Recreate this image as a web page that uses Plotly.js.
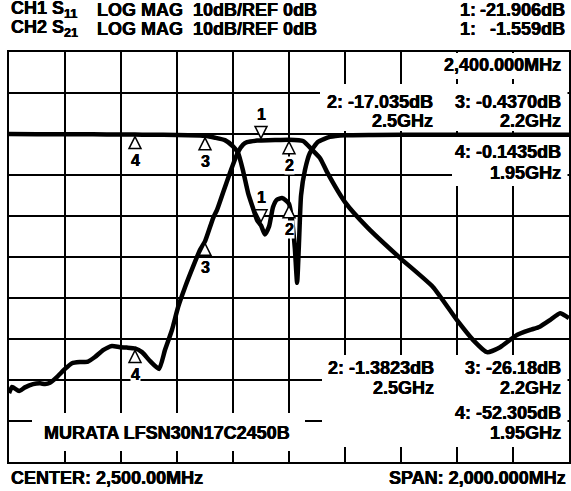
<!DOCTYPE html>
<html>
<head>
<meta charset="utf-8">
<script src="https://cdn.plot.ly/plotly-3.0.1.min.js"></script>
<style>html,body{margin:0;padding:0;background:#fff;}#chart{width:571px;height:491px;}</style>
</head>
<body>
<div id="chart"></div>
<script>
// ---- Data (frequency in MHz, magnitude in dB) ----
const freqS11 = [1500,1600,1700,1800,1900,1950,2000,2100,2182,2200,2236,2271,2300,2318,2336,2354,2371,2386,2400,2414,2429,2443,2457,2475,2489,2500,2511,2521,2529,2536,2543,2557,2575,2604,2646,2700,2800,3000,3200,3500];
const s11 = [0.0,-0.05,-0.06,-0.08,-0.12,-0.14,-0.17,-0.25,-0.35,-0.44,-0.9,-1.5,-3.0,-4.6,-9.0,-14.4,-18.0,-21.0,-22.3,-24.5,-22.5,-17.8,-16.0,-15.6,-16.2,-17.0,-21.0,-28.0,-36.3,-26.0,-15.0,-8.8,-4.6,-1.9,-0.7,-0.3,-0.22,-0.2,-0.2,-0.2];

const freqS21 = [1500,1511,1536,1557,1586,1611,1629,1646,1671,1700,1725,1754,1782,1807,1836,1868,1896,1921,1950,1975,2004,2036,2057,2082,2104,2129,2157,2182,2200,2229,2243,2264,2289,2318,2336,2350,2386,2400,2450,2500,2550,2582,2611,2636,2700,2779,2896,3014,3100,3157,3207,3254,3314,3361,3396,3432,3468,3500];
const s21 = [-63.2,-61.7,-62.7,-61.8,-61.0,-60.8,-61.0,-60.7,-59.3,-57.3,-55.9,-55.6,-55.5,-54.4,-52.7,-51.7,-52.0,-52.1,-52.3,-53.2,-55.4,-57.3,-52.7,-47.8,-42.2,-37.3,-32.4,-28.3,-26.2,-20.5,-18.5,-14.4,-9.5,-4.4,-2.6,-2.0,-1.6,-1.56,-1.45,-1.38,-1.7,-3.8,-5.9,-9.3,-16.6,-22.7,-30.2,-37.3,-45.4,-50.2,-53.2,-52.0,-49.0,-47.8,-47.0,-45.4,-43.7,-44.9];

// Markers
const markerIds = ['1','2','3','4'];
const markerFreqs = [2400, 2500, 2200, 1950];
const markerS11 = [-21.906, -17.035, -0.437, -0.1435];
const markerS21 = [-1.559, -1.3823, -26.18, -52.305];
const markerDown = [true, false, false, false];

// Text
const headerRows = [
  ['CH1 S<sub>11</sub>', 'LOG MAG', '10dB/REF 0dB', '1:', '-21.906dB'],
  ['CH2 S<sub>21</sub>', 'LOG MAG', '10dB/REF 0dB', '1:', '-1.559dB']
];
const stimulusText = '2,400.000MHz';
const readoutsS11 = [['2: -17.035dB','2.5GHz'],['3: -0.4370dB','2.2GHz'],['4: -0.1435dB','1.95GHz']];
const readoutsS21 = [['2: -1.3823dB','2.5GHz'],['3: -26.18dB','2.2GHz'],['4: -52.305dB','1.95GHz']];
const deviceName = 'MURATA LFSN30N17C2450B';
const centerText = 'CENTER: 2,500.00MHz';
const spanText = 'SPAN: 2,000.000MHz';

// ---- Layout helpers (pixel -> paper) ----
const W = 571, H = 491, L = 9, R = 569, T = 52, B = 462;
const px = x => (x - L) / (R - L);
const py = y => (B - y) / (B - T);
const FONT = 'Liberation Sans';
const HEAVY = '0.35px 0 0 #000, -0.35px 0 0 #000';

function txt(text, x, y, anchor, size) {
  return {text: '<b>' + text + '</b>', xref: 'paper', yref: 'paper', x: px(x), y: py(y),
    xanchor: anchor, yanchor: 'middle', showarrow: false,
    font: {family: FONT, size: size || 18, color: '#000', weight: 'bold', shadow: HEAVY}};
}

const annotations = [];
headerRows.forEach((r, i) => {
  const y = i === 0 ? 10 : 29;
  annotations.push(txt(r[0], 9, y, 'left'));
  annotations.push(txt(r[1], 95, y, 'left'));
  annotations.push(txt(r[2], 191, y, 'left'));
  annotations.push(txt(r[3], 458, y, 'left'));
  annotations.push(txt(r[4], 567, y, 'right'));
});
annotations.push(txt(stimulusText, 563, 65, 'right'));
annotations.push(txt(readoutsS11[0][0], 435, 102, 'right'));
annotations.push(txt(readoutsS11[0][1], 435, 121, 'right'));
annotations.push(txt(readoutsS11[1][0], 563, 102, 'right'));
annotations.push(txt(readoutsS11[1][1], 563, 121, 'right'));
annotations.push(txt(readoutsS11[2][0], 563, 152, 'right'));
annotations.push(txt(readoutsS11[2][1], 563, 173, 'right'));
annotations.push(txt(readoutsS21[0][0], 436, 368, 'right'));
annotations.push(txt(readoutsS21[0][1], 436, 388, 'right'));
annotations.push(txt(readoutsS21[1][0], 563, 368, 'right'));
annotations.push(txt(readoutsS21[1][1], 563, 388, 'right'));
annotations.push(txt(readoutsS21[2][0], 563, 413, 'right'));
annotations.push(txt(readoutsS21[2][1], 563, 433, 'right'));
annotations.push(txt(deviceName, 42, 433, 'left'));
annotations.push(txt(centerText, 9, 478, 'left'));
annotations.push(txt(spanText, 568, 478, 'right'));

// White blanking boxes
const boxes = [[440,53,567.5,79],[320,84,567.5,131],[452,137,567.5,186],[322,355,567.5,447],[32,413,305,451]];
const shapes = boxes.map(b => ({type: 'rect', xref: 'paper', yref: 'paper', layer: 'above',
  x0: px(b[0]), x1: px(b[2]), y0: py(b[3]), y1: py(b[1]), fillcolor: '#fff', line: {width: 0}}));

// Marker triangles and numbers
const UP = 'M 0,-2 L -6,-14 L 6,-14 Z';
const DOWN = 'M 0,2 L -6,14 L 6,14 Z';
[markerS11, markerS21].forEach(vals => {
  vals.forEach((v, i) => {
    const down = markerDown[i];
    shapes.push({type: 'path', xref: 'x', yref: 'y', xsizemode: 'pixel', ysizemode: 'pixel',
      xanchor: markerFreqs[i], yanchor: v, path: down ? DOWN : UP, layer: 'above',
      fillcolor: '#fff', line: {color: '#000', width: 1.5}});
    annotations.push({text: '<b>' + markerIds[i] + '</b>', xref: 'x', yref: 'y', x: markerFreqs[i], y: v,
      yshift: down ? 26 : -26, showarrow: false, xanchor: 'center', yanchor: 'middle',
      font: {family: FONT, size: 16, color: '#000', weight: 'bold', shadow: HEAVY}, bgcolor: '#fff', borderpad: 0});
  });
});

const traces = [
  {x: freqS11, y: s11, type: 'scatter', mode: 'lines', name: 'S11',
   line: {color: '#000', width: 4.5, shape: 'spline', smoothing: 0.5}},
  {x: freqS21, y: s21, type: 'scatter', mode: 'lines', name: 'S21',
   line: {color: '#000', width: 4.5, shape: 'spline', smoothing: 0.5}}
];

const axisCommon = {showgrid: true, gridcolor: '#000', gridwidth: 1.5, showline: true, mirror: true,
  linecolor: '#000', linewidth: 2, showticklabels: false, zeroline: false, ticks: '', fixedrange: true};

const layout = {
  width: W, height: H, autosize: false,
  margin: {l: L, r: W - R, t: T, b: H - B, pad: 0},
  paper_bgcolor: '#fff', plot_bgcolor: '#fff', showlegend: false,
  font: {family: FONT, weight: 'bold'},
  xaxis: Object.assign({range: [1500, 3500], tick0: 1500, dtick: 200}, axisCommon),
  yaxis: Object.assign({range: [-80, 20], tick0: -80, dtick: 10}, axisCommon),
  annotations: annotations, shapes: shapes
};

Plotly.newPlot('chart', traces, layout, {displayModeBar: false, staticPlot: true});
</script>
</body>
</html>
